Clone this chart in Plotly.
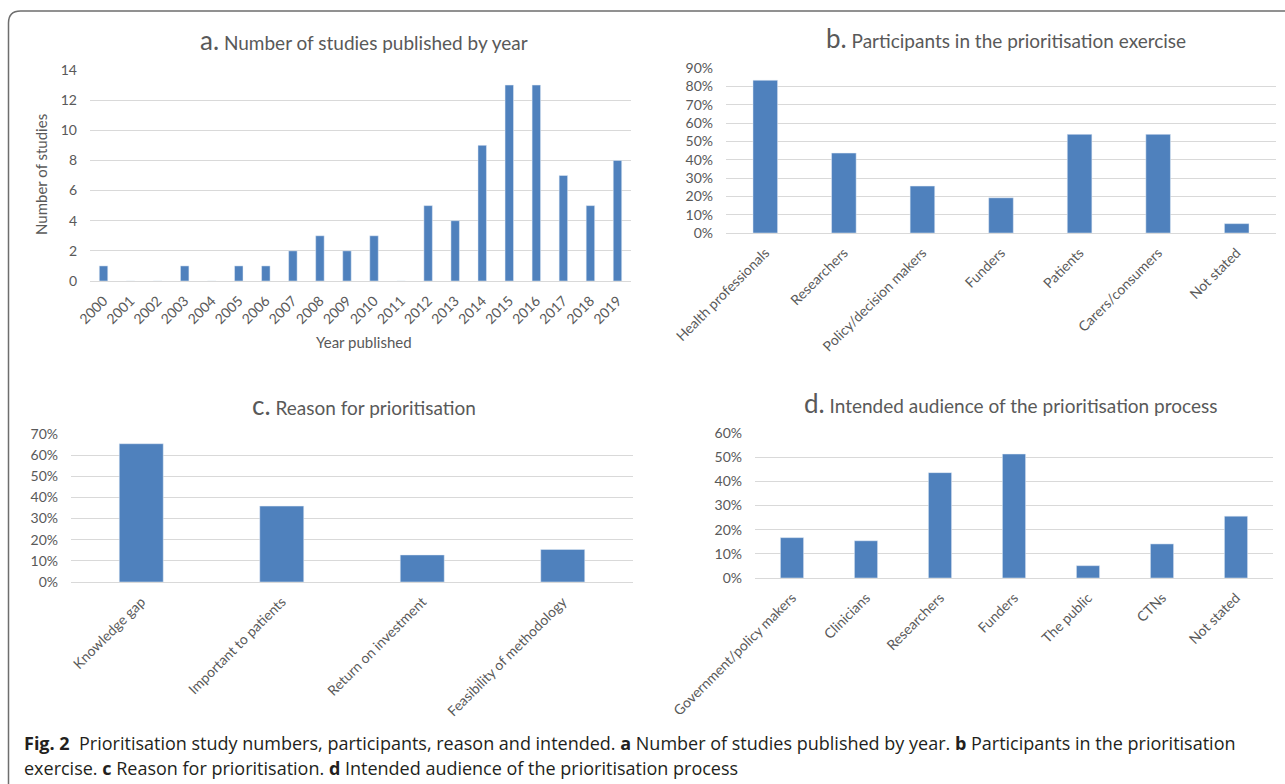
import plotly.graph_objects as go

# ---------------- data ----------------
years = [str(y) for y in range(2000, 2020)]
studies = [1, 0, 0, 1, 0, 1, 1, 2, 3, 2, 3, 0, 5, 4, 9, 13, 13, 7, 5, 8]

participants = ["Health professionals", "Researchers", "Policy/decision makers",
                "Funders", "Patients", "Carers/consumers", "Not stated"]
participants_pct = [83.3, 43.6, 25.6, 19.2, 53.8, 53.8, 5.1]

reasons = ["Knowledge gap", "Important to patients", "Return on investment",
           "Feasibility of methodology"]
reasons_pct = [65.4, 35.9, 12.8, 15.4]

audience = ["Government/policy makers", "Clinicians", "Researchers", "Funders",
            "The public", "CTNs", "Not stated"]
audience_pct = [16.7, 15.4, 43.6, 51.3, 5.1, 14.1, 25.6]

W, H = 1285, 784
BAR = "#4F81BD"
GRID = "#D9D9D9"
TXT = "#595959"
FONT = "Lato"


def px(x):
    return x / W


def py(y):
    return 1 - y / H


fig = go.Figure()
fig.add_trace(go.Bar(x=years, y=studies, marker_color=BAR, xaxis="x", yaxis="y"))
fig.add_trace(go.Bar(x=participants, y=participants_pct, marker_color=BAR, xaxis="x2", yaxis="y2"))
fig.add_trace(go.Bar(x=reasons, y=reasons_pct, marker_color=BAR, xaxis="x3", yaxis="y3"))
fig.add_trace(go.Bar(x=audience, y=audience_pct, marker_color=BAR, xaxis="x4", yaxis="y4"))

xcommon = dict(type="category", showgrid=False, zeroline=False, showline=False, ticks="",
               tickangle=-45, automargin=False, ticklabelstandoff=8,
               tickfont=dict(family=FONT, size=14, color=TXT), fixedrange=True)
ycommon = dict(showgrid=True, gridcolor=GRID, gridwidth=1, zeroline=True, zerolinecolor=GRID,
               zerolinewidth=1, showline=False, ticks="", ticklabelstandoff=12, automargin=False,
               tickfont=dict(family=FONT, size=14, color=TXT), fixedrange=True)

panels = {
    # name: (x0, x1, ybottom_px, ytop_px, range, dtick, suffix)
    "1": (90, 631, 281, 70, [0, 14], 2, ""),
    "2": (726, 1276, 233, 68, [0, 90], 10, "%"),
    "3": (71, 633, 582, 434, [0, 70], 10, "%"),
    "4": (755, 1273, 578, 433, [0, 60], 10, "%"),
}
layout_axes = {}
for k, (x0, x1, yb, yt, rng, dt, suf) in panels.items():
    xn = "xaxis" if k == "1" else "xaxis" + k
    yn = "yaxis" if k == "1" else "yaxis" + k
    ya = "y" if k == "1" else "y" + k
    xa = "x" if k == "1" else "x" + k
    layout_axes[xn] = dict(xcommon, domain=[px(x0), px(x1)], anchor=ya)
    layout_axes[yn] = dict(ycommon, domain=[py(yb), py(yt)], anchor=xa, range=rng,
                           dtick=dt, ticksuffix=suf)

fig.update_layout(**layout_axes)


def title(letter, text, x, y):
    return dict(text=f"<span style='font-size:26px'>{letter}</span> {text}",
                x=px(x), y=py(y), xref="paper", yref="paper", showarrow=False,
                xanchor="center", yanchor="middle",
                font=dict(family=FONT, size=19, color=TXT))


CAP = dict(family="Open Sans", size=18, color="#231F20")
annotations = [
    title("a.", "Number of studies published by year", 364, 40),
    title("b.", "Participants in the prioritisation exercise", 1006, 38),
    title("c.", "Reason for prioritisation", 364, 405),
    title("d.", "Intended audience of the prioritisation process", 1010, 403),
    dict(text="Year published", x=px(364), y=py(342), xref="paper", yref="paper",
         showarrow=False, xanchor="center", yanchor="middle",
         font=dict(family=FONT, size=15, color=TXT)),
    dict(text="Number of studies", x=px(41), y=py(175), xref="paper", yref="paper",
         showarrow=False, xanchor="center", yanchor="middle", textangle=-90,
         font=dict(family=FONT, size=15, color=TXT)),
    dict(text="<b>Fig. 2</b>  Prioritisation study numbers, participants, reason and intended. "
              "<b>a</b> Number of studies published by year. <b>b</b> Participants in the prioritisation",
         x=px(22), y=py(743), xref="paper", yref="paper", showarrow=False,
         xanchor="left", yanchor="middle", font=CAP),
    dict(text="exercise. <b>c</b> Reason for prioritisation. <b>d</b> Intended audience of the prioritisation process",
         x=px(22), y=py(768), xref="paper", yref="paper", showarrow=False,
         xanchor="left", yanchor="middle", font=CAP),
]

# rounded outer border (top-left corner visible)
x0, yt = px(8.5), py(11)
rx, ry = 12 / W, 12 / H
border = dict(type="path", xref="paper", yref="paper",
              path=f"M {x0},-0.02 L {x0},{yt - ry} Q {x0},{yt} {x0 + rx},{yt} L 1.02,{yt}",
              line=dict(color="#6E6E6E", width=1.5))

fig.update_layout(width=W, height=H, autosize=False, margin=dict(l=0, r=0, t=0, b=0, autoexpand=False),
                  paper_bgcolor="white", plot_bgcolor="white", showlegend=False,
                  bargap=0.687, annotations=annotations, shapes=[border])

fig.write_html("out.html", config={"displayModeBar": False})
